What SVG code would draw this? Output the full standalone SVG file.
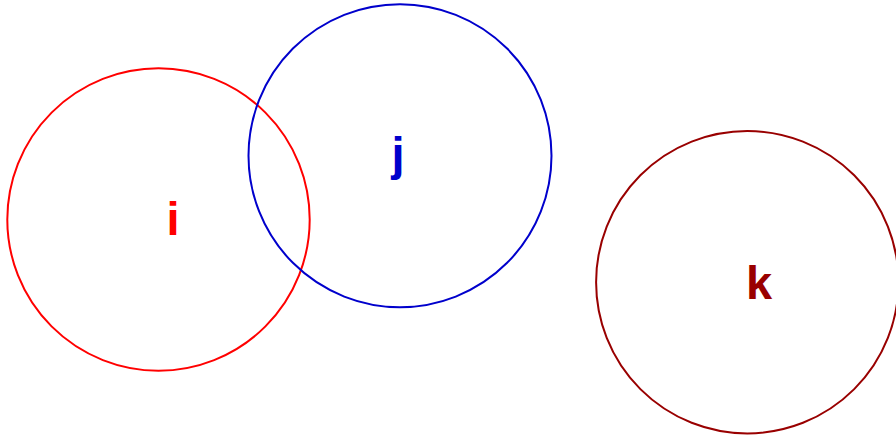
<svg xmlns="http://www.w3.org/2000/svg" width="896" height="437" viewBox="0 0 896 437">
<style>
circle{fill:none;stroke-width:2}
text{font-family:"Liberation Sans",Arial,sans-serif;font-weight:bold;font-size:47px;text-anchor:middle}
</style>
<rect width="896" height="437" fill="#fff"/>
<g id="node-i">
<circle cx="158.5" cy="219.5" r="151.2" stroke="#ff0000"/>
<text x="173" y="235" fill="#ff0000">i</text>
</g>
<g id="node-j">
<circle cx="400" cy="155.7" r="151.5" stroke="#0000cc"/>
<text x="398" y="170" fill="#0000cc">j</text>
</g>
<g id="node-k">
<circle cx="747.3" cy="282.2" r="151.2" stroke="#990000"/>
<text x="759" y="299" fill="#990000">k</text>
</g>
<g id="connectors"></g>
</svg>
